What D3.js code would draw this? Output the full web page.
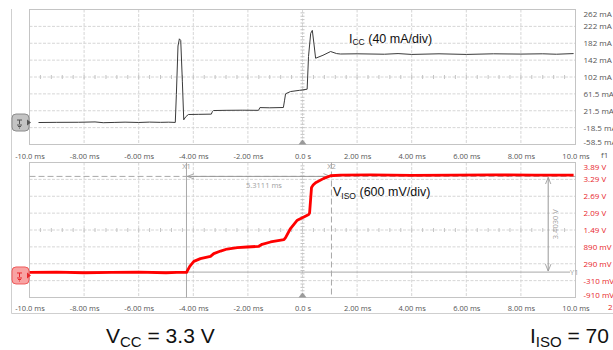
<!DOCTYPE html>
<html>
<head>
<meta charset="utf-8">
<script src="https://cdn.jsdelivr.net/npm/d3@7"></script>
<style>
body { margin: 0; background: #fff; }
svg { display: block; font-family: "Open Sans", sans-serif; }
.grid line { stroke: #d6d6d6; stroke-dasharray: 3,1.5; }
.tick text { fill: #555; }
</style>
</head>
<body>
<div id="chart"></div>
<script>
// axis ticks
const timeTicks = [-10, -8, -6, -4, -2, 0, 2, 4, 6, 8, 10];
const timeLabels = ["-10.0 ms", "-8.00 ms", "-6.00 ms", "-4.00 ms", "-2.00 ms", "0.0 s", "2.00 ms", "4.00 ms", "6.00 ms", "8.00 ms", "10.0 ms"];
const iccTicks = [261.5, 221.5, 181.5, 141.5, 101.5, 61.5, 21.5, -18.5, -58.5];
const iccLabels = ["262 mA", "222 mA", "182 mA", "142 mA", "102 mA", "61.5 mA", "21.5 mA", "-18.5 mA", "-58.5 mA"];
const visoTicks = [3.89, 3.29, 2.69, 2.09, 1.49, 0.89, 0.29, -0.31, -0.91];
const visoLabels = ["3.89 V", "3.29 V", "2.69 V", "2.09 V", "1.49 V", "890 mV", "290 mV", "-310 mV", "-910 mV"];

// I_CC trace (ms, mA)
const iccTime = [-9.67, -9.0, -8.2, -7.6, -7.3, -6.9, -6.5, -6.0, -5.6, -5.2, -4.9, -4.66, -4.62, -4.56, -4.51, -4.46, -4.40, -4.35, -4.28, -4.18,
    -3.8, -3.34, -3.30, -3.26, -2.8, -2.2, -1.61, -1.56, -1.20, -0.70, -0.66, -0.62, -0.44, -0.1, 0.17, 0.22, 0.30, 0.36, 0.42, 0.48,
    0.75, 1.03, 1.25, 1.39, 2.0, 3.0, 3.5, 4.0, 5.0, 6.0, 7.0, 8.0, 8.8, 9.3, 9.93];
const iccValue = [-6.4, -6.0, -5.8, -5.0, -6.8, -6.2, -5.5, -6.3, -5.4, -6.0, -5.6, -6.2, 60, 175, 192, 188, 90, 0, 7, 12.6,
    13, 13.5, 19.7, 22, 22.5, 22.8, 22.5, 29, 28.5, 29.2, 45, 61.7, 67, 70, 72.6, 150, 205, 212, 180, 146,
    153, 161.9, 157, 156, 156.5, 155.5, 157, 155, 156.5, 155, 156.5, 155.8, 156.5, 155.5, 157];

// V_ISO trace (ms, V)
const visoTime = [-10, -9, -8, -7, -6, -5, -4.6, -4.25, -4.13, -3.98, -3.74, -3.37, -3.25, -3.00, -2.76, -2.39, -2.03, -1.60, -1.48, -1.17,
    -0.68, -0.62, -0.44, -0.19, 0.05, 0.23, 0.26, 0.33, 0.39, 0.48, 0.78, 1.03, 1.39, 2.5, 4, 5.5, 7, 8.5, 9.93];
const visoValue = [-0.02, -0.01, -0.03, -0.02, -0.01, -0.03, -0.02, -0.02, 0.196, 0.375, 0.471, 0.553, 0.650, 0.742, 0.814, 0.864, 0.885, 0.910, 0.982, 1.064,
    1.149, 1.221, 1.542, 1.838, 1.956, 2.042, 2.10, 3.0, 3.087, 3.169, 3.326, 3.419, 3.444, 3.45, 3.43, 3.44, 3.45, 3.44, 3.44];

// cursors
const cursorX1 = -4.25, cursorDx = 5.3111;
const cursorY1 = -0.007, cursorDy = 3.403;

const width = 613, height = 350;
const topPanel = [9.5, 144.5], botPanel = [162.5, 297.5];

const x = d3.scaleLinear().domain([-10, 10]).range([29.5, 575.5]);
const yTop = d3.scaleLinear().domain([-58.5, 261.5]).range(topPanel.slice().reverse());
const yBot = d3.scaleLinear().domain([-0.91, 3.89]).range(botPanel.slice().reverse());

const svg = d3.select("#chart").append("svg")
    .attr("width", width)
    .attr("height", height);

svg.append("defs").selectAll("marker")
    .data(["start", "end"])
  .enter().append("marker")
    .attr("id", d => "arr-" + d)
    .attr("viewBox", "0 0 10 10")
    .attr("refX", d => d == "start" ? 0 : 10).attr("refY", 5)
    .attr("markerWidth", 7).attr("markerHeight", 7)
    .attr("orient", "auto")
  .append("path")
    .attr("d", d => d == "start" ? "M10,1L0,5L10,9" : "M0,1L10,5L0,9")
    .attr("fill", "none").attr("stroke", "#999").attr("stroke-width", 1.2);

// outer frame
svg.append("path")
    .attr("d", "M11.5,9V313.5H613")
    .attr("fill", "none").attr("stroke", "#cfcfcf");

function panel(y, ticks, labels, span, labelColor) {
    const g = svg.append("g");
    const grid = g.append("g").attr("class", "grid");
    grid.selectAll(".v").data(timeTicks.slice(1, -1)).enter().append("line")
        .attr("x1", d => x(d)).attr("x2", d => x(d))
        .attr("y1", span[0]).attr("y2", span[1]);
    grid.selectAll(".h").data(ticks.slice(1, -1)).enter().append("line")
        .attr("x1", x(-10)).attr("x2", x(10))
        .attr("y1", d => y(d)).attr("y2", d => y(d));

    // minor ticks on the centre lines
    const yc = y(ticks[4]);
    g.selectAll(".mx").data(d3.range(-10, 10.01, 0.4)).enter().append("line")
        .attr("x1", d => x(d)).attr("x2", d => x(d))
        .attr("y1", yc - 2).attr("y2", yc + 2)
        .attr("stroke", "#c4c4c4");
    const step = (ticks[0] - ticks[1]) / 5;
    g.selectAll(".my").data(d3.range(ticks[8], ticks[0] + step / 2, step)).enter().append("line")
        .attr("x1", x(0) - 2).attr("x2", x(0) + 2)
        .attr("y1", d => y(d)).attr("y2", d => y(d))
        .attr("stroke", "#c4c4c4");

    g.append("rect")
        .attr("x", x(-10)).attr("y", span[0])
        .attr("width", x(10) - x(-10)).attr("height", span[1] - span[0])
        .attr("fill", "none").attr("stroke", "#c4c4c4");

    // trigger marker
    g.append("path")
        .attr("d", `M${x(0) - 4},${span[1]}L${x(0)},${span[1] - 5}L${x(0) + 4},${span[1]}Z`)
        .attr("fill", "#9a9a9a");

    const ax = g.append("g")
        .attr("transform", `translate(${x(10)},0)`)
        .call(d3.axisRight(y).tickValues(ticks).tickFormat((d, i) => labels[i]).tickSize(0).tickPadding(8));
    ax.select(".domain").remove();
    ax.selectAll("text").attr("font-size", 8).style("fill", labelColor)
        .attr("dy", (d, i) => i == 0 ? "0.85em" : i == ticks.length - 1 ? "-0.05em" : "0.32em");
    ax.attr("font-family", null);
    return g;
}

panel(yTop, iccTicks, iccLabels, topPanel, "#555");
panel(yBot, visoTicks, visoLabels, botPanel, "#e8262b");

function timeAxis(ty) {
    const ax = svg.append("g")
        .attr("transform", `translate(0,${ty})`)
        .call(d3.axisBottom(x).tickValues(timeTicks).tickFormat((d, i) => timeLabels[i]).tickSize(0).tickPadding(3));
    ax.select(".domain").remove();
    ax.attr("font-family", null);
    ax.selectAll("text").attr("font-size", 7.5);
}
timeAxis(151);
timeAxis(303);

svg.append("text").attr("x", 601).attr("y", 158).attr("font-size", 8).attr("fill", "#555").text("f1");
svg.append("text").attr("x", 608).attr("y", 310).attr("font-size", 8).attr("fill", "#e8262b").text("2");

// cursors
const cx1 = x(cursorX1), cx2 = x(cursorX1 + cursorDx);
const cy1 = yBot(cursorY1), cy2 = yBot(cursorY1 + cursorDy);
const cur = svg.append("g").attr("stroke", "#a8a8a8").attr("fill", "none");
cur.append("line").attr("x1", x(-10)).attr("x2", x(10)).attr("y1", cy2).attr("y2", cy2)
    .attr("stroke-dasharray", "6,3");
cur.append("line").attr("x1", x(-10)).attr("x2", x(9.8)).attr("y1", cy1).attr("y2", cy1);
cur.append("line").attr("x1", cx1).attr("x2", cx1).attr("y1", botPanel[0]).attr("y2", botPanel[1]);
cur.append("line").attr("x1", cx2).attr("x2", cx2).attr("y1", botPanel[0]).attr("y2", botPanel[1])
    .attr("stroke-dasharray", "6,3");
cur.append("line").attr("x1", cx1 + 1).attr("x2", cx2 - 1).attr("y1", cy2).attr("y2", cy2)
    .attr("stroke", "#999")
    .attr("marker-start", "url(#arr-start)").attr("marker-end", "url(#arr-end)");
const ax9 = x(9.0);
cur.append("line").attr("x1", ax9).attr("x2", ax9).attr("y1", cy2 + 1).attr("y2", cy1 - 1)
    .attr("stroke", "#999")
    .attr("marker-start", "url(#arr-start)").attr("marker-end", "url(#arr-end)");

const curText = svg.append("g").attr("fill", "#a0a0a0").attr("font-size", 7.5);
curText.append("text").attr("x", cx1).attr("y", 169).attr("text-anchor", "middle").text("X1");
curText.append("text").attr("x", cx2).attr("y", 169).attr("text-anchor", "middle").text("X2");
curText.append("text").attr("x", (cx1 + cx2) / 2 + 5).attr("y", 188).attr("text-anchor", "middle")
    .text(cursorDx.toFixed(4) + " ms");
curText.append("text").attr("x", 570).attr("y", cy1 + 3).text("Y1");
curText.append("text").attr("transform", `translate(${ax9 + 10},${(cy1 + cy2) / 2}) rotate(-90)`)
    .attr("text-anchor", "middle").text(cursorDy.toFixed(4) + " V");

// traces
const iccLine = d3.line().x(d => x(d[0])).y(d => yTop(d[1]));
svg.append("path")
    .datum(d3.zip(iccTime, iccValue))
    .attr("d", iccLine)
    .attr("fill", "none").attr("stroke", "#3a3a3a").attr("stroke-width", 1);

const visoLine = d3.line().x(d => x(d[0])).y(d => yBot(d[1]));
svg.append("path")
    .datum(d3.zip(visoTime, visoValue))
    .attr("d", visoLine)
    .attr("fill", "none").attr("stroke", "#ff0000").attr("stroke-width", 2.8)
    .attr("stroke-linejoin", "round");

// channel markers
function marker(cy, fill, stroke, sym) {
    const g = svg.append("g").attr("transform", `translate(12,${cy - 8.5})`);
    g.append("rect").attr("width", 17).attr("height", 17).attr("rx", 4)
        .attr("fill", fill).attr("stroke", stroke);
    g.append("path").attr("d", "M15,5.5L19,8.5L15,11.5Z").attr("fill", sym);
    g.append("path").attr("d", "M5,6H10M7.5,6V10M5,11H10M6,12.5H9M7,14H8")
        .attr("stroke", sym).attr("stroke-width", 1).attr("fill", "none");
}
marker(yTop(-6.4), "#c4c4c4", "#8c8c8c", "#555");
marker(yBot(-0.02) + 3, "#f8a3a3", "#ee5b5b", "#e8262b");

// annotations
const ann = svg.append("g").attr("font-family", "'Liberation Sans', Arial, sans-serif").attr("fill", "#111");
const t1 = ann.append("text").attr("x", 349).attr("y", 42.5).attr("font-size", 12.5);
t1.append("tspan").text("I");
t1.append("tspan").attr("font-size", 8.5).attr("dy", 2.5).text("CC");
t1.append("tspan").attr("dy", -2.5).text(" (40 mA/div)");

const t2 = ann.append("text").attr("x", 333).attr("y", 196).attr("font-size", 12.5);
t2.append("tspan").text("V");
t2.append("tspan").attr("font-size", 8.5).attr("dy", 2.5).text("ISO");
t2.append("tspan").attr("dy", -2.5).text(" (600 mV/div)");

const t3 = ann.append("text").attr("x", 106).attr("y", 343).attr("font-size", 21);
t3.append("tspan").text("V");
t3.append("tspan").attr("font-size", 15).attr("dy", 4).text("CC");
t3.append("tspan").attr("dy", -4).text(" = 3.3 V");

const t4 = ann.append("text").attr("x", 530).attr("y", 343).attr("font-size", 21);
t4.append("tspan").text("I");
t4.append("tspan").attr("font-size", 15).attr("dy", 4).text("ISO");
t4.append("tspan").attr("dy", -4).text(" = 70");
</script>
</body>
</html>
